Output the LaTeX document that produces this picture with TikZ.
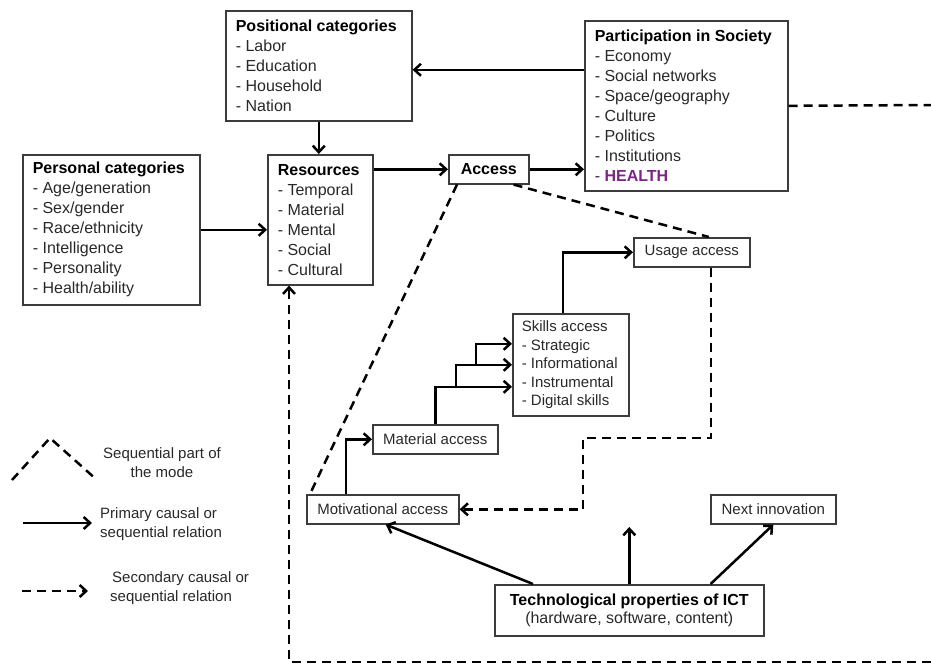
\documentclass[tikz,border=0pt]{standalone}
\usepackage{fontspec}
\setmainfont{Liberation Sans}
\usetikzlibrary{arrows.meta}
\definecolor{healthpurple}{RGB}{122,38,132}
\definecolor{boxgray}{RGB}{60,60,60}
\definecolor{textgray}{RGB}{40,40,40}

\tikzset{
  catbox/.style={draw=boxgray,line width=1.6pt,anchor=north west,align=flush left,inner xsep=10pt,inner ysep=0pt,text=textgray,font=\fontsize{16}{20}\selectfont},
  accbox/.style={draw=boxgray,line width=1.6pt,anchor=north west,inner sep=0pt,text=textgray,font=\fontsize{15}{18}\selectfont},
  legtext/.style={text=textgray,inner sep=0pt,font=\fontsize{15}{19}\selectfont},
  arr/.style={line width=2.5pt,-{Straight Barb[length=6.5pt,width=12pt]}},
  dasharr/.style={arr,dash pattern=on 9pt off 6pt},
  dashline/.style={line width=2.5pt,dash pattern=on 9pt off 6pt}
}

\begin{document}
\begin{tikzpicture}[x=1pt,y=-1pt]
    \useasboundingbox (0,0) rectangle (931,664);
    % upper boxes
    \node[catbox,text width=166pt,minimum height=110pt] (pos) at (225,10) {\textbf{\color{black}Positional categories}\\- Labor\\- Education\\- Household\\- Nation};
    \node[catbox,text width=157pt,minimum height=150pt] (pers) at (22,154) {\textbf{\color{black}Personal categories}\\- Age/generation\\- Sex/gender\\- Race/ethnicity\\- Intelligence\\- Personality\\- Health/ability};
    \node[catbox,text width=85pt,minimum height=130pt] (res) at (267,154) {\textbf{\color{black}Resources}\\- Temporal\\- Material\\- Mental\\- Social\\- Cultural};
    \node[catbox,inner xsep=0pt,align=center,minimum width=80pt,minimum height=29pt] (acc) at (448,154) {\textbf{\color{black}Access}};
    \node[catbox,text width=183pt,minimum height=170pt] (part) at (584,20) {\textbf{\color{black}Participation in Society}\\- Economy\\- Social networks\\- Space/geography\\- Culture\\- Politics\\- Institutions\\- \textcolor{healthpurple}{\textbf{HEALTH}}};
    % access steps
    \node[accbox,minimum width=116pt,minimum height=29pt] (use) at (633,237) {Usage access};
    \node[catbox,inner xsep=9pt,text width=98pt,minimum height=102pt,font=\fontsize{15}{18.5}\selectfont] (skills) at (512,313) {Skills access\\- Strategic\\- Informational\\- Instrumental\\- Digital skills};
    \node[accbox,minimum width=125pt,minimum height=29pt] (mat) at (372,424) {Material access};
    \node[accbox,minimum width=152pt,minimum height=29pt] (mot) at (306,494) {Motivational access};
    \node[accbox,minimum width=125pt,minimum height=29pt] (nxt) at (710,494) {Next innovation};
    \node[catbox,inner xsep=0pt,align=center,minimum width=269pt,minimum height=51pt,font=\fontsize{16}{18}\selectfont] (tech) at (494,584) {\textbf{\color{black}Technological properties of ICT}\\(hardware, software, content)};

    % main relations
    \draw[arr] ([yshift=-4pt]pos.east -| part.west) -- ([yshift=-4pt]pos.east);
    \draw[arr] (pos.south) -- (pos.south |- res.north);
    \draw[arr] (pers.east) -- (pers.east -| res.west);
    \draw[arr] (res.east |- acc.west) -- (acc.west);
    \draw[arr] (acc.east) -- (acc.east -| part.west);
    \coordinate (edgeR) at (931,105);
    \draw[dashline] (part.east) -- (edgeR);

    % sequential part
    \draw[dashline] ([xshift=9pt]acc.south west) -- ([xshift=4pt]mot.north west);
    \draw[dashline] ([xshift=-16pt]acc.south east) -- ([xshift=17pt]use.north);
    \draw[arr] ([xshift=40pt]mot.north west) |- (mat.west);
    \draw[arr] (mat.north) |- ([yshift=-22pt]skills.west);
    \coordinate (b1) at (456,386);
    \coordinate (b2) at (476,364);
    \draw[arr] (b1) |- (skills.west);
    \draw[arr] (b2) |- ([yshift=21pt]skills.west);
    \draw[arr] ([xshift=-8pt]skills.north) |- (use.west);
    \coordinate (bend) at (583,438);
    \draw[dasharr] ([xshift=19pt]use.south) |- (bend) |- (mot.east);

    % technology
    \coordinate (up) at (628,527);
    \draw[arr] ([xshift=39pt]tech.north west) -- ([xshift=3pt]mot.south);
    \draw[arr] (tech.north) -- (tech.north |- up);
    \draw[arr] ([xshift=-54pt]tech.north east) -- (nxt.south);
    \coordinate (edgeB) at (931,662);
    \draw[dasharr] (edgeB) -| ([xshift=22pt]res.south west);

    % legend
    \draw[dashline] (12,480) -- (50,438) -- (97,480);
    \node[legtext,align=center] (leg1) at (162,463) {Sequential part of\\the mode};
    \draw[arr] (23,523) -- (92,523);
    \node[legtext,anchor=west,align=left] (leg2) at (100,524) {Primary causal or\\sequential relation};
    \draw[dasharr] (22,591) -- (88,591);
    \node[legtext,anchor=west,align=left] (leg3) at (110,588) {\hspace{2pt}Secondary causal or\\sequential relation};
\end{tikzpicture}
\end{document}
